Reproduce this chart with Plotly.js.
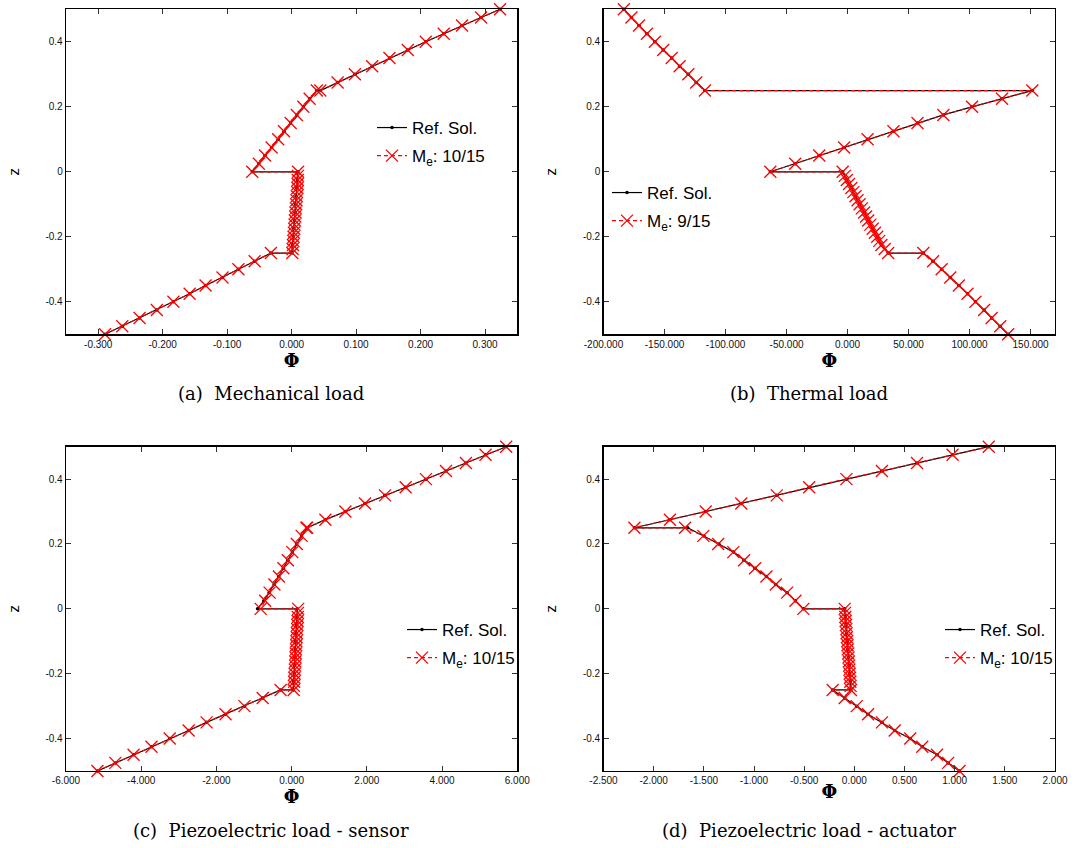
<!DOCTYPE html>
<html>
<head>
<meta charset="utf-8">
<script src="https://cdn.plot.ly/plotly-3.0.1.min.js"></script>
<style>html,body{margin:0;padding:0;background:#fff;}#chart{width:1075px;height:848px;}</style>
</head>
<body>
<div id="chart"></div>
<script>
// ---- shared z grids (4 layers) ----
const zRef = [
  -0.5,-0.475,-0.45,-0.425,-0.4,-0.375,-0.35,-0.325,-0.3,-0.275,-0.25,
  -0.25,-0.225,-0.2,-0.175,-0.15,-0.125,-0.1,-0.075,-0.05,-0.025,0,
  0,0.025,0.05,0.075,0.1,0.125,0.15,0.175,0.2,0.225,0.25,
  0.25,0.275,0.3,0.325,0.35,0.375,0.4,0.425,0.45,0.475,0.5
];
const zMe = [
  -0.5,-0.475,-0.45,-0.425,-0.4,-0.375,-0.35,-0.325,-0.3,-0.275,-0.25,
  -0.25,-0.2375,-0.225,-0.2125,-0.2,-0.1875,-0.175,-0.1625,-0.15,-0.1375,-0.125,
  -0.1125,-0.1,-0.0875,-0.075,-0.0625,-0.05,-0.0375,-0.025,-0.0125,0,
  0,0.025,0.05,0.075,0.1,0.125,0.15,0.175,0.2,0.225,0.25,
  0.25,0.275,0.3,0.325,0.35,0.375,0.4,0.425,0.45,0.475,0.5
];

// ---- (a) Mechanical load ----
const phiRefA = [
  -0.2895,-0.2627,-0.2359,-0.2091,-0.1834,-0.1582,-0.1335,-0.1072,-0.0826,-0.0574,-0.0322,
  0.0005,0.0015,0.0025,0.0034,0.0044,0.0053,0.0062,0.0071,0.0080,0.0089,0.0098,
  -0.0611,-0.0509,-0.0413,-0.0311,-0.0209,-0.0118,-0.0016,0.0080,0.0182,0.0279,0.0391,
  0.0445,0.0713,0.0981,0.1249,0.1517,0.1802,0.2080,0.2359,0.2643,0.2938,0.3233
];
const phiMeA = [
  -0.2895,-0.2627,-0.2359,-0.2091,-0.1834,-0.1582,-0.1335,-0.1072,-0.0826,-0.0574,-0.0322,
  0.0010,0.0015,0.0020,0.0025,0.0030,0.0035,0.0040,0.0045,0.0050,0.0055,0.0060,
  0.0065,0.0070,0.0075,0.0080,0.0085,0.0090,0.0093,0.0096,0.0098,0.0100,
  -0.0611,-0.0509,-0.0413,-0.0311,-0.0209,-0.0118,-0.0016,0.0080,0.0182,0.0279,0.0391,
  0.0445,0.0713,0.0981,0.1249,0.1517,0.1802,0.2080,0.2359,0.2643,0.2938,0.3233
];

// ---- (b) Thermal load ----
const phiRefB = [
  131.6,125.1,118.1,111.9,104.8,98.3,91.2,84.2,77.1,70.1,62.1,
  33.3,27.7,24.3,20.6,16.9,13.6,9.9,6.5,3.1,-0.6,-4.0,
  -63.3,-42.9,-23.2,-2.8,16.4,37.6,57.3,78.5,102.0,126.6,151.4,
  -116.9,-124.0,-130.5,-137.6,-144.1,-151.1,-157.9,-164.4,-170.9,-177.1,-183.3
];
const phiMeB = [
  131.6,125.1,118.1,111.9,104.8,98.3,91.2,84.2,77.1,70.1,62.1,
  33.3,30.5,27.7,26.0,24.3,22.4,20.6,18.7,16.9,15.2,13.6,
  11.7,9.9,8.2,6.5,4.8,3.1,1.2,-0.6,-2.3,-4.0,
  -63.3,-42.9,-23.2,-2.8,16.4,37.6,57.3,78.5,102.0,126.6,151.4,
  -116.9,-124.0,-130.5,-137.6,-144.1,-151.1,-157.9,-164.4,-170.9,-177.1,-183.3
];

// ---- (c) Piezoelectric load - sensor ----
const phiRefC = [
  -5.165,-4.689,-4.203,-3.727,-3.242,-2.738,-2.262,-1.758,-1.255,-0.769,-0.293,
  0.045,0.056,0.066,0.077,0.087,0.098,0.108,0.119,0.129,0.140,0.150,
  -0.907,-0.740,-0.600,-0.465,-0.342,-0.222,-0.103,0.016,0.135,0.264,0.420,
  0.412,0.897,1.429,1.951,2.482,3.031,3.571,4.103,4.634,5.156,5.705
];
const phiMeC = [
  -5.165,-4.689,-4.203,-3.727,-3.242,-2.738,-2.262,-1.758,-1.255,-0.769,-0.293,
  0.055,0.061,0.067,0.073,0.079,0.085,0.091,0.097,0.103,0.109,0.115,
  0.121,0.127,0.133,0.139,0.145,0.151,0.157,0.163,0.168,0.174,
  -0.824,-0.705,-0.586,-0.458,-0.339,-0.220,-0.101,0.018,0.137,0.266,0.394,
  0.412,0.897,1.429,1.951,2.482,3.031,3.571,4.103,4.634,5.156,5.705
];

// ---- (d) Piezoelectric load - actuator ----
const phiRefD = [
  1.048,0.935,0.824,0.677,0.557,0.402,0.275,0.137,0.024,-0.096,-0.216,
  -0.034,-0.040,-0.046,-0.052,-0.058,-0.065,-0.071,-0.077,-0.083,-0.090,-0.096,
  -0.508,-0.587,-0.670,-0.783,-0.876,-0.989,-1.099,-1.203,-1.350,-1.498,-1.660,
  -2.192,-1.838,-1.481,-1.127,-0.773,-0.450,-0.079,0.275,0.625,0.979,1.340
];
const phiMeD = [
  1.048,0.935,0.824,0.677,0.557,0.402,0.275,0.137,0.024,-0.096,-0.216,
  -0.034,-0.037,-0.040,-0.043,-0.046,-0.049,-0.052,-0.055,-0.058,-0.061,-0.065,
  -0.068,-0.071,-0.074,-0.077,-0.080,-0.083,-0.087,-0.090,-0.093,-0.096,
  -0.508,-0.587,-0.670,-0.783,-0.876,-0.989,-1.099,-1.206,-1.357,-1.505,-1.687,
  -2.192,-1.838,-1.481,-1.127,-0.773,-0.450,-0.079,0.275,0.625,0.979,1.340
];

// ---- names, captions, tick labels ----
const refName = "Ref. Sol.";
const meNames = ["M<sub>e</sub>: 10/15", "M<sub>e</sub>: 9/15", "M<sub>e</sub>: 10/15", "M<sub>e</sub>: 10/15"];
const captions = ["(a)\u00a0 Mechanical load", "(b)\u00a0 Thermal load",
                  "(c)\u00a0 Piezoelectric load - sensor", "(d)\u00a0 Piezoelectric load - actuator"];

const xTickValsA = [-0.3,-0.2,-0.1,0,0.1,0.2,0.3];
const xTickTextA = ["-0.300","-0.200","-0.100","0.000","0.100","0.200","0.300"];
const xTickValsB = [-200,-150,-100,-50,0,50,100,150];
const xTickTextB = ["-200.000","-150.000","-100.000","-50.000","0.000","50.000","100.000","150.000"];
const xTickValsC = [-6,-4,-2,0,2,4,6];
const xTickTextC = ["-6.000","-4.000","-2.000","0.000","2.000","4.000","6.000"];
const xTickValsD = [-2.5,-2,-1.5,-1,-0.5,0,0.5,1,1.5,2];
const xTickTextD = ["-2.500","-2.000","-1.500","-1.000","-0.500","0.000","0.500","1.000","1.500","2.000"];
const yTickVals = [-0.4,-0.2,0,0.2,0.4];
const yTickText = ["-0.4","-0.2","0","0.2","0.4"];

const xRanges = [[-0.35,0.35],[-200,170],[-6,6],[-2.5,2]];

// ---- build ----
const refSets = [phiRefA, phiRefB, phiRefC, phiRefD];
const meSets = [phiMeA, phiMeB, phiMeC, phiMeD];
const axIds = [["x","y"],["x2","y2"],["x3","y3"],["x4","y4"]];
const legIds = ["legend","legend2","legend3","legend4"];

const traces = [];
for (let i = 0; i < 4; i++) {
  traces.push({
    x: refSets[i], y: zRef, xaxis: axIds[i][0], yaxis: axIds[i][1],
    type: "scatter", mode: "lines+markers", name: refName,
    legend: legIds[i], legendgroup: "r" + i, cliponaxis: false,
    line: {color: "#000000", width: 1.2},
    marker: {symbol: "circle", size: 3.5, color: "#000000"}
  });
  traces.push({
    x: meSets[i], y: zMe, xaxis: axIds[i][0], yaxis: axIds[i][1],
    type: "scatter", mode: "lines+markers", name: meNames[i],
    legend: legIds[i], legendgroup: "m" + i, cliponaxis: false,
    line: {color: "#ff0000", width: 1.2, dash: "4px,3px"},
    marker: {symbol: "x-thin-open", size: 12, color: "#ff0000", line: {color: "#ff0000", width: 1.3}}
  });
}

const W = 1075, H = 848;
const colX = [[66/W, 517.3/W],[603.5/W, 1055/W]];
const rowY = [[1-334.3/H, 1-9.3/H],[1-771/H, 1-446.7/H]];
const tickFont = {family: "Liberation Sans, Arial, sans-serif", size: 10, color: "#111"};

function xAxis(i, vals, text) {
  return {
    domain: colX[i % 2], anchor: axIds[i][1], range: xRanges[i],
    tickvals: vals, ticktext: text, ticks: "inside", ticklen: 5, tickwidth: 1, tickcolor: "#333",
    showline: true, mirror: "ticks", linecolor: "#000", linewidth: 1.3,
    showgrid: false, zeroline: false, tickfont: tickFont,
    title: {text: "<b>Φ</b>", font: {family: "DejaVu Serif, serif", size: 18, color: "#000"}, standoff: 0}
  };
}
function yAxis(i) {
  return {
    domain: rowY[Math.floor(i / 2)], anchor: axIds[i][0], range: [-0.5, 0.5],
    tickvals: yTickVals, ticktext: yTickText, ticks: "inside", ticklen: 5, tickwidth: 1, tickcolor: "#333",
    showline: true, mirror: "ticks", linecolor: "#000", linewidth: 1.3,
    showgrid: false, zeroline: false, tickfont: tickFont,
    title: {text: "z", font: {family: "Liberation Sans, Arial, sans-serif", size: 15, color: "#000"}, standoff: 22}
  };
}

const legFont = {family: "Liberation Sans, Arial, sans-serif", size: 17, color: "#000"};
function leg(x, xanchor, ytop) {
  return {x: x, xanchor: xanchor, y: 1 - ytop / H, yanchor: "top", xref: "paper", yref: "paper",
          bgcolor: "rgba(0,0,0,0)", borderwidth: 0, font: legFont, traceorder: "grouped", tracegroupgap: 3};
}

const layout = {
  width: W, height: H,
  margin: {l: 0, r: 0, t: 0, b: 0},
  paper_bgcolor: "#fff", plot_bgcolor: "#fff",
  showlegend: true,
  xaxis: xAxis(0, xTickValsA, xTickTextA),
  xaxis2: xAxis(1, xTickValsB, xTickTextB),
  xaxis3: xAxis(2, xTickValsC, xTickTextC),
  xaxis4: xAxis(3, xTickValsD, xTickTextD),
  yaxis: yAxis(0), yaxis2: yAxis(1), yaxis3: yAxis(2), yaxis4: yAxis(3),
  legend: leg(490 / W, "right", 110),
  legend2: leg(607 / W, "left", 175),
  legend3: leg(520 / W, "right", 612),
  legend4: leg(1058 / W, "right", 612),
  annotations: [
    {text: captions[0], x: 271 / W, y: 1 - 393 / H},
    {text: captions[1], x: 809 / W, y: 1 - 393 / H},
    {text: captions[2], x: 271 / W, y: 1 - 830 / H},
    {text: captions[3], x: 809 / W, y: 1 - 830 / H}
  ].map(a => Object.assign(a, {xref: "paper", yref: "paper", xanchor: "center", yanchor: "middle",
      showarrow: false, font: {family: "DejaVu Serif, serif", size: 18, color: "#000"}}))
};

Plotly.newPlot("chart", traces, layout, {displayModeBar: false, staticPlot: true});
</script>
</body>
</html>
